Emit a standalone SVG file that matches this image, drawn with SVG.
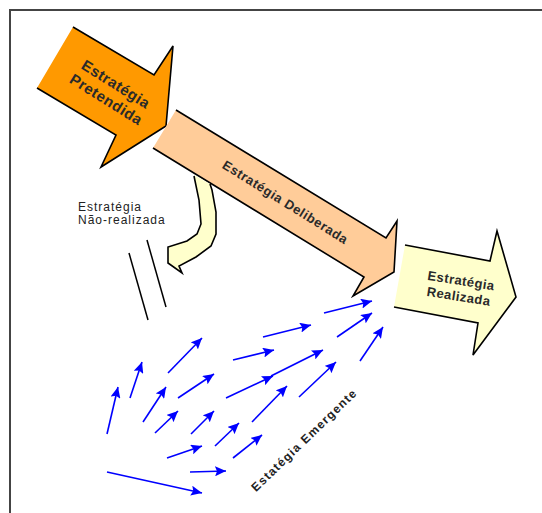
<svg xmlns="http://www.w3.org/2000/svg" width="542" height="513" viewBox="0 0 542 513">
<defs>
<marker id="ah" markerUnits="userSpaceOnUse" markerWidth="12" markerHeight="10" refX="11" refY="5" orient="auto">
<path d="M0,0 L11,5 L0,10 L2,5 z" fill="#0000ff"/>
</marker>
</defs>
<style>
.edge{fill:none;stroke:#000;stroke-width:1.6;stroke-linejoin:miter}
.lbl{font-family:"Liberation Sans",Arial,sans-serif;font-weight:bold;fill:#2a2a2a;text-anchor:middle}
.plain{font-family:"Liberation Sans",Arial,sans-serif;fill:#222}
.blue line{stroke:#0000ff;stroke-width:1.6;marker-end:url(#ah)}
</style>
<rect width="542" height="513" fill="#fff"/>
<path d="M10,513 V10 H542" fill="none" stroke="#444" stroke-width="2"/>

<g id="pretendida">
<polygon points="73,27 154,75 173,46 166,126 101,167 116,135 37,88" fill="#ff9900"/>
<polyline class="edge" points="73,27 154,75 173,46 166,126 101,167 116,135 37,88"/>
<g transform="translate(111,92) rotate(32)">
<text class="lbl" x="0" y="-4" font-size="15" letter-spacing="0.5">Estratégia</text>
<text class="lbl" x="0" y="14" font-size="15" letter-spacing="0.5">Pretendida</text>
</g>
</g>

<g id="deliberada">
<polygon points="176,110 386,238 397,221 394,272 353,296 364,277 153,148" fill="#ffcc99"/>
<polyline class="edge" points="176,110 386,238 397,221 394,272 353,296 364,277 153,148"/>
<text class="lbl" font-size="13" letter-spacing="0.6" transform="translate(283,206) rotate(32)">Estratégia Deliberada</text>
</g>

<g id="realizada">
<polygon points="405,245 490,261 497,231 516,297 473,355 478,323 394,307" fill="#ffffcc"/>
<polyline class="edge" points="405,245 490,261 497,231 516,297 473,355 478,323 394,307"/>
<g transform="translate(460,288) rotate(9)">
<text class="lbl" x="0" y="-3" font-size="13" letter-spacing="0.5">Estratégia</text>
<text class="lbl" x="0" y="13" font-size="13" letter-spacing="0.5">Realizada</text>
</g>
</g>

<g id="nao-realizada">
<path d="M194,175 L199,200 L201,224 L197,234 L187,241 L168,247 L168,263 L182,273 L179,266 L196,257 L211,246 L216,234 L216,212 L212,190 L210,184 Z" fill="#ffffcc"/>
<polyline class="edge" points="194,176 199,200 201,224 197,234 187,241 168,247 168,263 182,273 179,266 196,257 211,246 216,234 216,212 212,190 210,184"/>
<text class="plain" font-size="12" letter-spacing="1" x="78" y="211">Estratégia</text>
<text class="plain" font-size="12" letter-spacing="1" x="78" y="224">Não-realizada</text>
<line x1="129" y1="253" x2="148" y2="320" stroke="#000" stroke-width="1.5"/>
<line x1="147" y1="240" x2="166" y2="307" stroke="#000" stroke-width="1.5"/>
</g>

<g id="emergente">
<text class="plain" font-size="12" letter-spacing="1.2" text-anchor="middle" fill="#444" font-weight="bold" transform="translate(307,443) rotate(-44)">Estatégia Emergente</text>
</g>

<g id="connectors" class="blue">
<line x1="107" y1="434" x2="118" y2="387"/>
<line x1="130" y1="398" x2="142" y2="362"/>
<line x1="168" y1="373" x2="202" y2="338"/>
<line x1="143" y1="422" x2="166" y2="387"/>
<line x1="178" y1="398" x2="214" y2="374"/>
<line x1="155" y1="433" x2="178" y2="411"/>
<line x1="191" y1="434" x2="214" y2="411"/>
<line x1="167" y1="458" x2="202" y2="446"/>
<line x1="190" y1="472" x2="226" y2="471"/>
<line x1="107" y1="472" x2="202" y2="493"/>
<line x1="215" y1="446" x2="239" y2="423"/>
<line x1="233" y1="458" x2="262" y2="435"/>
<line x1="226" y1="398" x2="273" y2="376"/>
<line x1="271" y1="376" x2="323" y2="350"/>
<line x1="233" y1="360" x2="274" y2="350"/>
<line x1="263" y1="337" x2="311" y2="325"/>
<line x1="324" y1="313" x2="372" y2="301"/>
<line x1="337" y1="337" x2="372" y2="313"/>
<line x1="360" y1="361" x2="383" y2="327"/>
<line x1="299" y1="397" x2="336" y2="362"/>
<line x1="252" y1="422" x2="287" y2="386"/>
</g>
</svg>
